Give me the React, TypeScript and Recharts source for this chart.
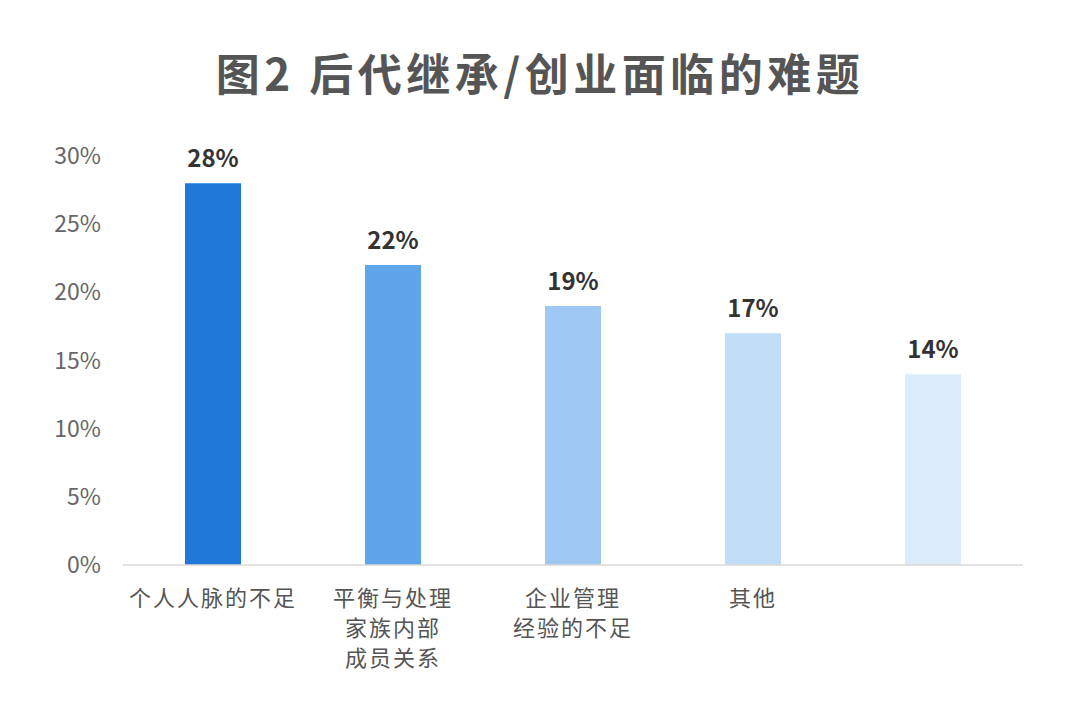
import React from "react";
import { BarChart, Bar, XAxis, YAxis, Cell, LabelList } from "recharts";

const categories = ["个人人脉的不足", "平衡与处理\n家族内部\n成员关系", "企业管理\n经验的不足", "其他", ""];
const shares = [28, 22, 19, 17, 14];
const barColors = ["#1f78d7", "#5fa5e9", "#9ec8f2", "#c1ddf6", "#dcebf9"];
const yTicks = [0, 5, 10, 15, 20, 25, 30];

const data = categories.map((name, i) => ({ name, value: shares[i] }));

const FONT = '"Noto Sans CJK SC", "Noto Sans", sans-serif';

function CategoryTick(props: any) {
  const { x, y, payload } = props;
  const lines = String(payload.value).split("\n");
  return (
    <text x={x} y={y} textAnchor="middle" fill="#555" fontSize={22} letterSpacing={2} fontFamily={FONT}>
      {lines.map((line, i) => (
        <tspan key={i} x={x} dy={i === 0 ? 41 : 30}>
          {line}
        </tspan>
      ))}
    </text>
  );
}

export default function App() {
  return (
    <div style={{ position: "absolute", left: 0, top: 0, width: 1080, height: 720, background: "#fff" }}>
      <div
        style={{
          position: "absolute",
          left: 0,
          top: 42,
          width: 1080,
          textAlign: "center",
          fontFamily: FONT,
          fontWeight: 700,
          fontSize: 44,
          letterSpacing: 4.5,
          lineHeight: "60px",
          color: "#555",
        }}
      >
        图2 后代继承/创业面临的难题
      </div>
      <BarChart
        width={1080}
        height={720}
        data={data}
        margin={{ top: 156, right: 57, bottom: 55, left: 0 }}
        barSize={56}
      >
        <XAxis
          dataKey="name"
          axisLine={{ stroke: "#d9d9d9", strokeWidth: 1.5 }}
          tickLine={false}
          tickSize={0}
          tickMargin={0}
          height={100}
          interval={0}
          tick={<CategoryTick />}
        />
        <YAxis
          width={123}
          domain={[0, 30]}
          ticks={yTicks}
          axisLine={false}
          tickLine={false}
          tickSize={0}
          tickMargin={22}
          tickFormatter={(v) => `${v}%`}
          tick={{ fill: "#666", fontSize: 23, fontFamily: FONT }}
        />
        <Bar dataKey="value" isAnimationActive={false}>
          {data.map((d, i) => (
            <Cell key={d.name + i} fill={barColors[i]} />
          ))}
          <LabelList
            dataKey="value"
            position="top"
            offset={16}
            formatter={(v: any) => `${v}%`}
            style={{ fill: "#333", fontSize: 24, fontWeight: 700, fontFamily: FONT }}
          />
        </Bar>
      </BarChart>
    </div>
  );
}
